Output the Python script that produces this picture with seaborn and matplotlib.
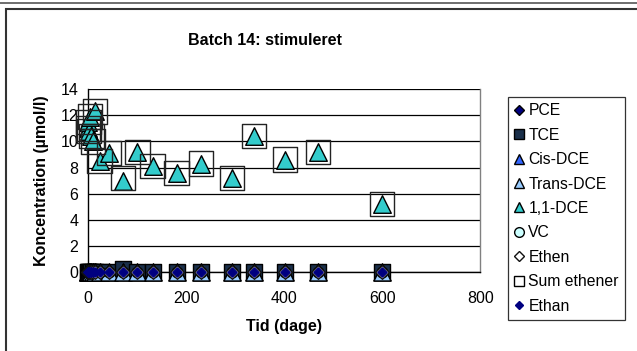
import matplotlib
matplotlib.use("Agg")
import matplotlib.pyplot as plt
from matplotlib.lines import Line2D
from matplotlib.patches import Rectangle
import numpy as np
import pandas as pd
import seaborn as sns

# sampling days
tid = [0, 1, 2, 4, 7, 10, 15, 24, 43, 71, 101, 132, 181, 231, 294, 339, 402, 469, 600]
# 1,1-DCE is the only series that leaves zero
dce11 = [11.0, 11.5, 10.8, 11.9, 10.4, 10.0, 12.3, 8.5, 9.1, 7.0, 9.2, 8.1, 7.6, 8.3, 7.2, 10.4, 8.6, 9.2, 5.2]
pce = [0.0] * len(tid)
tce = [0, 0, 0, 0, 0, 0, 0, 0, 0, 0.2, 0, 0, 0, 0, 0, 0, 0, 0, 0]
cis_dce = [0.0] * len(tid)
trans_dce = [0.0] * len(tid)
vc = [0.0] * len(tid)
ethen = [0.0] * len(tid)
ethan = [0.0] * len(tid)
sum_ethener = [a + b + c + d + e + f + g for a, b, c, d, e, f, g in
               zip(pce, tce, cis_dce, trans_dce, dce11, vc, ethen)]

x_ticks = [0, 200, 400, 600, 800]
y_ticks = [0, 2, 4, 6, 8, 10, 12, 14]

df = pd.DataFrame({"Tid": tid, "PCE": pce, "TCE": tce, "Cis-DCE": cis_dce,
                   "Trans-DCE": trans_dce, "1,1-DCE": dce11, "VC": vc,
                   "Ethen": ethen, "Sum ethener": sum_ethener, "Ethan": ethan})

# (name, marker, face, edge, size in scatter units)
series = [
    ("PCE", "D", "#000080", "black", 40),
    ("TCE", "s", "#1a2f4a", "black", 135),
    ("Cis-DCE", "^", "#3366ff", "black", 150),
    ("Trans-DCE", "^", "#99ccff", "black", 150),
    ("1,1-DCE", "^", "#33cccc", "black", 160),
    ("VC", "o", "#ccffff", "black", 60),
    ("Ethen", "D", "white", "#111111", 48),
    ("Sum ethener", "s", "none", "#222222", 310),
    ("Ethan", "D", "#000080", "#000080", 22),
]

sns.set_theme(style="white")
plt.rcParams["font.family"] = ["Liberation Sans", "DejaVu Sans"]

fig = plt.figure(figsize=(6.37, 3.51), dpi=100)
ax = fig.add_axes([0.138, 0.225, 0.616, 0.521])

for name, mk, fc, ec, s in series:
    sns.scatterplot(data=df, x="Tid", y=name, ax=ax, marker=mk, s=s,
                    color=fc, edgecolor=ec, linewidth=1.0, clip_on=False,
                    zorder=3)

ax.set_xlim(0, 800)
ax.set_ylim(0, 14)
ax.set_xticks(x_ticks)
ax.set_yticks(y_ticks)
ax.tick_params(axis="y", labelsize=11.5, colors="black", length=5,
               direction="out", width=0.8, pad=2)
ax.tick_params(axis="x", labelsize=11.5, colors="black", length=5,
               direction="out", width=0.8, pad=9)
for t in ax.get_xticklabels() + ax.get_yticklabels():
    t.set_color("black")
ax.yaxis.grid(True, color="black", linewidth=0.9)
ax.xaxis.grid(False)
ax.set_axisbelow(True)
ax.spines["left"].set_color("black")
ax.spines["bottom"].set_color("black")
ax.spines["right"].set_color("#808080")
ax.spines["top"].set_visible(False)
for sp in ["left", "bottom", "right"]:
    ax.spines[sp].set_linewidth(1.0)
    ax.spines[sp].set_visible(True)

ax.set_xlabel("Tid (dage)", fontsize=11.5, fontweight="bold", color="black",
              labelpad=9)
ax.set_ylabel("Koncentration (\u00b5mol/l)", fontsize=11.5, fontweight="bold",
              color="black", labelpad=8)

fig.text(0.416, 0.886, "Batch 14: stimuleret", ha="center", va="center",
         fontsize=11.5, fontweight="bold", color="black")

handles = []
for name, mk, fc, ec, s in series:
    if mk == "D":
        h = Line2D([], [], linestyle="none", marker=mk,
                   markersize=4.5 if name == "Ethan" else 5.5,
                   markerfacecolor=fc, markeredgecolor=ec,
                   markeredgewidth=1.0)
    else:
        h = Line2D([], [], linestyle="none", marker=mk, markersize=7,
                   markerfacecolor="white" if fc == "none" else fc,
                   markeredgecolor="black", markeredgewidth=1.0)
    handles.append(h)
leg = fig.legend(handles, [s[0] for s in series], loc="upper left",
                 bbox_to_anchor=(508 / 637, 1 - 97 / 351), frameon=True,
                 fontsize=11.3, handlelength=0.6, handletextpad=0.3,
                 borderpad=0.4, labelspacing=0.6, fancybox=False,
                 borderaxespad=0)
leg.get_frame().set_edgecolor("black")
leg.get_frame().set_linewidth(0.9)
for t in leg.get_texts():
    t.set_color("black")

# outer chart frame and the edge of the chart above
fig.add_artist(Rectangle((6 / 637, -0.05), 1.0, 1 - 9 / 351 + 0.05,
                         transform=fig.transFigure, fill=False,
                         edgecolor="#333333", linewidth=1.5))
fig.add_artist(Line2D([0, 1], [1 - 3 / 351, 1 - 3 / 351],
                      transform=fig.transFigure, color="#555555", linewidth=1.2))

fig.savefig("out.png", dpi=100)
